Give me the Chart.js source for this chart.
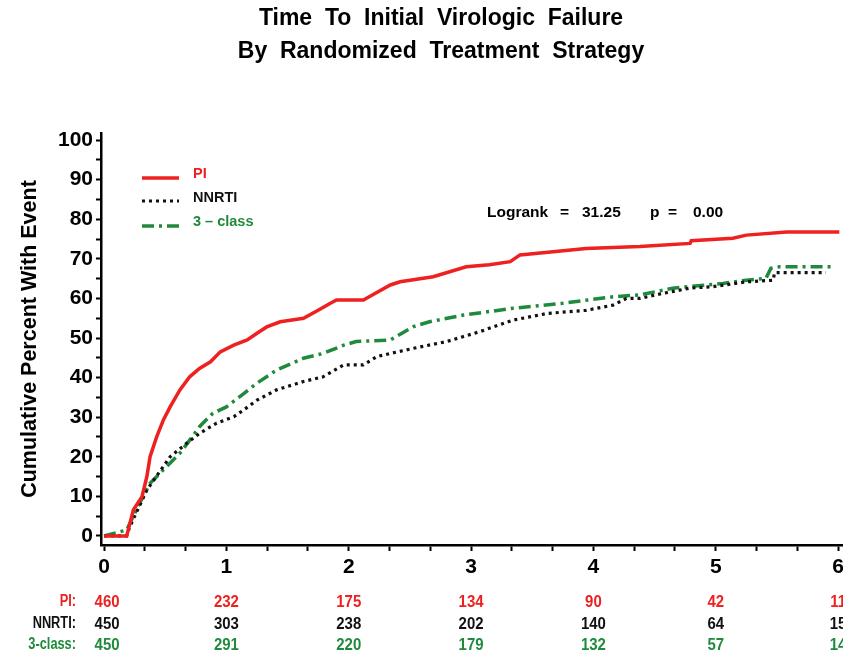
<!DOCTYPE html>
<html>
<head>
<meta charset="utf-8">
<script src="https://cdn.jsdelivr.net/npm/chart.js@4.4.1/dist/chart.umd.min.js"></script>
<style>
html,body{margin:0;padding:0;overflow:hidden;background:#fff;}
#wrap{width:880px;height:657px;position:relative;}
</style>
</head>
<body>
<div id="wrap"><canvas id="c"></canvas></div>
<script>
// ---- data ----
const titleLines = ['Time  To  Initial  Virologic  Failure', 'By  Randomized  Treatment  Strategy'];
const seriesNames = ['PI', 'NNRTI', '3 \u2013 class'];
const xTickValues = [0, 1, 2, 3, 4, 5, 6];
const yTickValues = [0, 10, 20, 30, 40, 50, 60, 70, 80, 90, 100];

const piX = [0, 0.185, 0.24, 0.31, 0.35, 0.376, 0.43, 0.485, 0.54, 0.62, 0.70, 0.78, 0.87, 0.95, 1.06, 1.17, 1.25, 1.33, 1.44, 1.55, 1.63, 1.75, 1.85, 1.90, 2.12, 2.2, 2.34, 2.42, 2.69, 2.96, 3.15, 3.32, 3.40, 3.67, 3.94, 4.38, 4.79, 4.80, 5.14, 5.25, 5.58, 6.01];
const piY = [0, 0, 6.6, 9.9, 15, 20, 25, 29.3, 32.6, 36.9, 40.2, 42.3, 44, 46.5, 48.2, 49.5, 51.2, 52.8, 54.1, 54.6, 55, 57, 58.8, 59.6, 59.6, 61, 63.4, 64.2, 65.5, 68, 68.5, 69.3, 71, 71.8, 72.6, 73.1, 73.9, 74.6, 75.2, 76, 76.8, 76.8];

const nnrtiX = [0, 0.185, 0.21, 0.35, 0.54, 0.675, 0.78, 0.92, 1.06, 1.14, 1.25, 1.41, 1.63, 1.79, 1.96, 2.12, 2.23, 2.34, 2.53, 2.80, 3.07, 3.34, 3.62, 3.94, 4.16, 4.27, 4.38, 4.57, 4.79, 4.98, 5.25, 5.47, 5.48, 5.9];
const nnrtiY = [0, 0, 2.3, 11.6, 20, 23.4, 25.9, 28.5, 30.1, 31.8, 34.3, 36.9, 39, 40.2, 43.2, 43.2, 45.3, 46.1, 47.4, 49.1, 51.6, 54.5, 56.2, 57, 58.3, 60, 60, 61.3, 62.6, 63, 64.2, 64.6, 66.5, 66.5];

const classX = [0, 0.185, 0.29, 0.376, 0.51, 0.62, 0.70, 0.78, 0.89, 1.0, 1.11, 1.25, 1.41, 1.63, 1.79, 1.96, 2.06, 2.34, 2.53, 2.66, 2.94, 3.34, 3.75, 4.16, 4.38, 4.65, 5.06, 5.25, 5.41, 5.45, 5.52, 5.96];
const classY = [0, 1.5, 8.2, 13.3, 17.5, 20.9, 24.2, 27.6, 31, 32.6, 35.2, 38.6, 41.9, 44.9, 46.1, 48.2, 49.1, 49.5, 52.9, 54.1, 55.8, 57.5, 58.8, 60.4, 60.9, 62.6, 63.8, 64.6, 65.1, 67.6, 68, 68];

const riskLabels = ['PI:', 'NNRTI:', '3-class:'];
const riskPI = [460, 232, 175, 134, 90, 42, 11];
const riskNNRTI = [450, 303, 238, 202, 140, 64, 15];
const riskClass = [450, 291, 220, 179, 132, 57, 14];

const logrankText = ['Logrank', '=', '31.25', 'p', '=', '0.00'];

// ---- styles ----
const RED = '#ee2020', BLACK = '#111111', GREEN = '#1f8a3c';
const FONT = '"Liberation Sans", Arial, Helvetica, sans-serif';
const colors = [RED, BLACK, GREEN];
const dashes = [[], [3, 4], [12, 5, 3, 5]];
const widths = [3.5, 3.2, 3.5];

function pts(xs, ys){ return xs.map((x,i)=>({x:x, y:ys[i]})); }

const textPlugin = {
  id: 'texts',
  afterDraw(chart){
    const ctx = chart.ctx;
    const xs = chart.scales.x;
    ctx.save();
    // title
    ctx.fillStyle = '#000';
    ctx.textAlign = 'center';
    ctx.textBaseline = 'middle';
    ctx.font = 'bold 23px ' + FONT;
    ctx.fillText(titleLines[0], 441, 19);
    ctx.fillText(titleLines[1], 441, 52);
    // legend
    const ly = [178, 201, 226];
    const ty = [174, 198, 222];
    for (let i=0;i<3;i++){
      ctx.beginPath();
      ctx.setLineDash(dashes[i]);
      ctx.lineWidth = widths[i];
      ctx.strokeStyle = colors[i];
      ctx.moveTo(142, ly[i]); ctx.lineTo(179, ly[i]);
      ctx.stroke();
      ctx.setLineDash([]);
      ctx.fillStyle = colors[i];
      ctx.font = 'bold 14.5px ' + FONT;
      ctx.textAlign = 'left';
      ctx.fillText(seriesNames[i], 193, ty[i]);
    }
    // logrank
    ctx.fillStyle = '#000';
    ctx.font = 'bold 15.5px ' + FONT;
    ctx.textAlign = 'left';
    const lx = [487, 560, 582, 650, 668, 693];
    logrankText.forEach((t,i)=>ctx.fillText(t, lx[i], 213));
    // number at risk (narrow lettering)
    const rows = [riskPI, riskNNRTI, riskClass];
    const ry = [602, 624, 645];
    for (let r=0;r<3;r++){
      ctx.fillStyle = colors[r];
      ctx.save();
      let sx = 0.8;
      ctx.font = 'bold 16px ' + FONT;
      ctx.scale(sx, 1);
      ctx.textAlign = 'right';
      ctx.fillText(riskLabels[r], 76 / sx, ry[r]);
      ctx.restore();
      ctx.save();
      sx = 0.88;
      ctx.font = 'bold 17px ' + FONT;
      ctx.scale(sx, 1);
      ctx.textAlign = 'center';
      rows[r].forEach((v,i)=>{
        const px = xs.getPixelForValue(xTickValues[i]) + (i===0 ? 3 : 0);
        ctx.fillText(String(v), px / sx, ry[r]);
      });
      ctx.restore();
    }
    ctx.restore();
  }
};

const xMinor = [];
for (let i=0;i<=18;i++) xMinor.push(i/3);
const yMinor = [];
for (let v=0; v<=100; v+=5) yMinor.push(v);

new Chart(document.getElementById('c'), {
  type: 'line',
  data: {
    datasets: [
      {label: seriesNames[0], data: pts(piX, piY), borderColor: RED, borderWidth: widths[0], borderDash: dashes[0], pointRadius: 0, tension: 0, fill: false},
      {label: seriesNames[1], data: pts(nnrtiX, nnrtiY), borderColor: BLACK, borderWidth: widths[1], borderDash: dashes[1], pointRadius: 0, tension: 0, fill: false},
      {label: seriesNames[2], data: pts(classX, classY), borderColor: GREEN, borderWidth: widths[2], borderDash: dashes[2], pointRadius: 0, tension: 0, fill: false}
    ]
  },
  options: {
    responsive: true,
    maintainAspectRatio: false,
    animation: false,
    devicePixelRatio: 1,
    layout: {padding: {left: 0, top: 133, right: 37, bottom: 0}},
    plugins: {legend: {display: false}, tooltip: {enabled: false}, title: {display: false}},
    scales: {
      x: {
        type: 'linear', min: -0.025, max: 6.04,
        afterBuildTicks: s => { s.ticks = xMinor.map(v=>({value:v})); },
        afterFit: s => { s.height = 112; },
        ticks: {
          autoSkip: false, maxRotation: 0, padding: 4, color: '#000',
          font: {family: FONT, size: 21, weight: 'bold'},
          callback: v => (Math.abs(v - Math.round(v)) < 1e-6 && xTickValues.includes(Math.round(v))) ? String(Math.round(v)) : ''
        },
        grid: {drawOnChartArea: false, drawTicks: true, tickLength: 6, tickColor: '#000', tickWidth: 2, color: '#000'},
        border: {display: true, color: '#000', width: 2.5}
      },
      y: {
        type: 'linear', min: -2.3, max: 101.8,
        afterBuildTicks: s => { s.ticks = yMinor.map(v=>({value:v})); },
        afterFit: s => { s.width = 101; },
        ticks: {
          autoSkip: false, padding: 3, color: '#000',
          font: {family: FONT, size: 21, weight: 'bold'},
          callback: v => yTickValues.includes(v) ? String(v) : ''
        },
        title: {display: true, text: 'Cumulative Percent With Event', color: '#000', font: {family: FONT, size: 21.5, weight: 'bold'}, padding: {top: 17, bottom: 0}},
        grid: {drawOnChartArea: false, drawTicks: true, tickLength: 5, tickColor: '#000', tickWidth: 2, color: '#000'},
        border: {display: true, color: '#000', width: 2.5}
      }
    }
  },
  plugins: [textPlugin]
});
</script>
</body>
</html>
